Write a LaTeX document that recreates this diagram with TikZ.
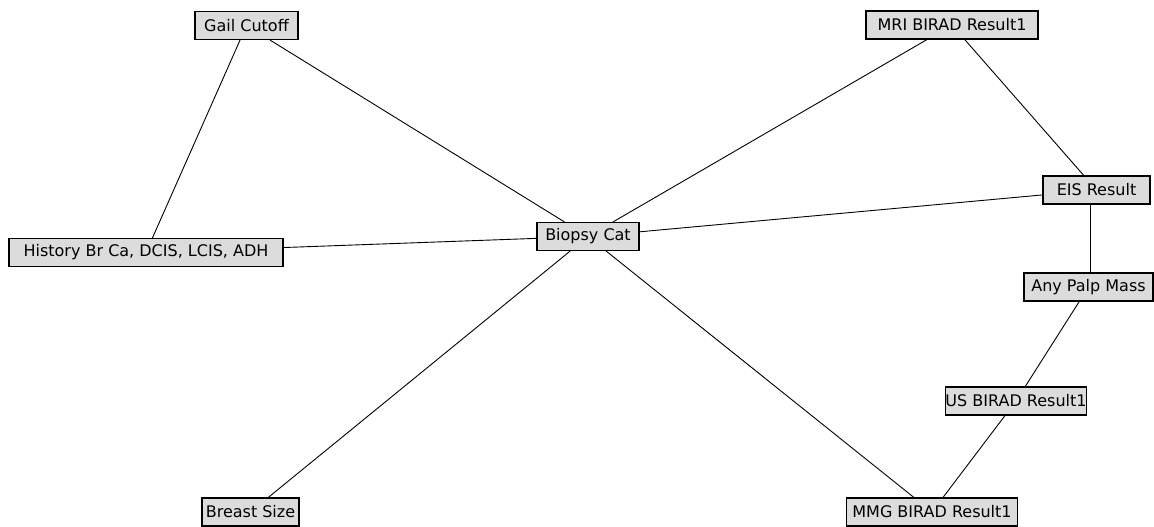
\documentclass[tikz,border=0pt]{standalone}
\usepackage{fontspec}
\setmainfont{DejaVu Sans}
\definecolor{boxfill}{RGB}{220,220,220}
\begin{document}
\begin{tikzpicture}[x=1pt,y=-1pt,
  box/.style={draw=black,line width=1.2pt,fill=boxfill,inner sep=0pt,minimum height=28pt,font=\fontsize{16}{17}\selectfont},
  edge/.style={draw=black,line width=0.9pt}]
\useasboundingbox (0,0) rectangle (1154,527);
\node[box,minimum width=103pt] (gail) at (246.5,25.5) {Gail Cutoff};
\node[box,minimum width=172pt] (mri) at (952,25) {MRI BIRAD Result1};
\node[box,minimum width=274pt] (hist) at (146,252.5) {History Br Ca, DCIS, LCIS, ADH};
\node[box,minimum width=102pt] (biopsy) at (588,236.5) {Biopsy Cat};
\node[box,minimum width=107pt] (eis) at (1096.5,190) {EIS Result};
\node[box,minimum width=129pt] (palp) at (1088.5,287) {Any Palp Mass};
\node[box,minimum width=138pt] (us) at (1016,401) {US BIRAD Result1};
\node[box,minimum width=97pt] (breast) at (250.5,512) {Breast Size};
\node[box,minimum width=171pt] (mmg) at (932,512) {MMG BIRAD Result1};
\draw[edge] (gail) -- (hist);
\draw[edge] (gail) -- (biopsy);
\draw[edge] (hist) -- (biopsy);
\draw[edge] (mri) -- (biopsy);
\draw[edge] (mri) -- (eis);
\draw[edge] (eis) -- (biopsy);
\coordinate (eisp) at ([xshift=2pt]eis.south -| palp.north);
\draw[edge] (eisp) -- (eisp |- palp.north);
\draw[edge] (palp) -- (us);
\draw[edge] (us) -- (mmg);
\draw[edge] (biopsy) -- (breast);
\draw[edge] (biopsy) -- (mmg);
\end{tikzpicture}
\end{document}
